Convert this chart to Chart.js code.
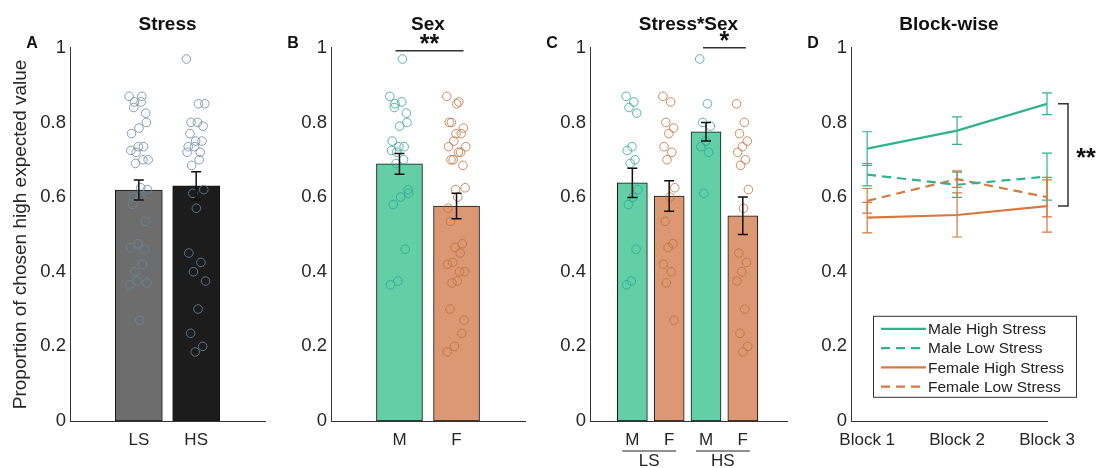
<!DOCTYPE html>
<html>
<head>
<meta charset="utf-8">
<script src="https://cdn.jsdelivr.net/npm/chart.js@4/dist/chart.umd.min.js"></script>
<style>
  html, body { margin: 0; padding: 0; background: #fff; }
  #wrap { position: relative; width: 1103px; height: 468px; overflow: hidden; }
  #wrap canvas { position: absolute; top: 0; }
</style>
</head>
<body>
<div id="wrap">
  <canvas id="cA" width="275" height="468" style="left:0px"></canvas>
  <canvas id="cB" width="265" height="468" style="left:275px"></canvas>
  <canvas id="cC" width="262" height="468" style="left:540px"></canvas>
  <canvas id="cD" width="301" height="468" style="left:802px"></canvas>
</div>
<script>
// Individual participant scores (proportion of high-EV choices) per group
const lsMale   = [0.87, 0.855, 0.84, 0.825, 0.735, 0.725, 0.70, 0.69, 0.62, 0.60, 0.58, 0.46, 0.375, 0.365];
const lsFemale = [0.87, 0.855, 0.80, 0.785, 0.77, 0.735, 0.72, 0.70, 0.625, 0.60, 0.535, 0.475, 0.465, 0.42, 0.40, 0.37, 0.27];
const hsMale   = [0.97, 0.85, 0.80, 0.79, 0.75, 0.735, 0.72, 0.61];
const hsFemale = [0.85, 0.80, 0.77, 0.75, 0.735, 0.72, 0.70, 0.685, 0.62, 0.57, 0.45, 0.425, 0.40, 0.375, 0.30, 0.235, 0.20, 0.185];

// Group means and standard errors
const stressLabels = ['LS', 'HS'];
const stressMeans  = [0.619, 0.630];
const stressSem    = [0.027, 0.038];

const sexLabels = ['M', 'F'];
const sexMeans  = [0.689, 0.576];
const sexSem    = [0.028, 0.034];

const groupLabels = ['M', 'F', 'M', 'F'];
const groupStress = ['LS', 'HS'];
const groupMeans  = [0.638, 0.603, 0.775, 0.550];
const groupSem    = [0.039, 0.041, 0.025, 0.050];

// Block-wise means and standard errors
const blockLabels    = ['Block 1', 'Block 2', 'Block 3'];
const maleHigh       = [0.730, 0.778, 0.850];
const maleHighSem    = [0.045, 0.037, 0.029];
const maleLow        = [0.660, 0.633, 0.655];
const maleLowSem     = [0.030, 0.034, 0.063];
const femaleHigh     = [0.545, 0.552, 0.576];
const femaleHighSem  = [0.041, 0.059, 0.070];
const femaleLow      = [0.590, 0.648, 0.600];
const femaleLowSem   = [0.033, 0.022, 0.053];

const yTicks = [0, 0.2, 0.4, 0.6, 0.8, 1];

// ---------------------------------------------------------------------------
const FONT = 'Arial, "Liberation Sans", Helvetica, sans-serif';
Chart.defaults.font.family = FONT;
Chart.defaults.color = '#262626';
Chart.defaults.animation = false;
Chart.defaults.events = [];
Chart.defaults.plugins.legend.display = false;
Chart.defaults.plugins.tooltip.enabled = false;

const GREY_BAR = '#6d6d6d', BLACK_BAR = '#1c1c1c';
const GREEN_BAR = '#62cfa7', ORANGE_BAR = '#dc9873';
const GREY_DOT = 'rgba(105,135,160,0.8)';
const GREEN_DOT = 'rgba(45,165,150,0.8)';
const ORANGE_DOT = 'rgba(190,112,62,0.8)';
const GREEN_LINE = '#2fb38d', ORANGE_LINE = '#d7783f';
const AXIS = '#333';
const AXIS_H = 47;

// deterministic horizontal spread of the individual dots around a bar
const jitter = i => (((i * 0.6180339887) % 1) - 0.5) * 0.34;
const dots = (vals, pos) => vals.map((v, i) => ({ x: pos + jitter(i), y: v }));

function yAxis(width, title) {
  return {
    type: 'linear', min: 0, max: 1,
    afterBuildTicks: s => { s.ticks = yTicks.map(v => ({ value: v })); },
    afterFit: s => { s.width = width; },
    ticks: { padding: 4, font: { size: 18.5 }, color: '#262626',
             callback: v => String(+(+v).toFixed(1)) },
    grid: { display: false, drawTicks: false },
    border: { color: AXIS, width: 1 },
    title: title ? { display: true, text: title, font: { size: 19 }, color: '#262626',
                     padding: { top: 9, bottom: 0 } } : { display: false }
  };
}

function xAxis(min, max, labels) {
  return {
    type: 'linear', min, max, offset: false, bounds: 'data', grace: 0,
    afterDataLimits: s => { s.min = min; s.max = max; },
    afterBuildTicks: s => { s.ticks = labels.map((_, i) => ({ value: i + 1 })); },
    afterFit: s => { s.height = AXIS_H; },
    ticks: { padding: 9, font: { size: 17 }, color: '#262626', autoSkip: false, maxRotation: 0,
             callback: (v, i) => labels[i] },
    grid: { display: false, drawTicks: false, offset: false },
    border: { color: AXIS, width: 1 }
  };
}

function titleOpts(text) {
  return { display: true, text, fullSize: false, color: '#111',
           font: { size: 19, weight: 'bold' }, padding: { top: 13, bottom: 12 } };
}

function barSet(means, colors, width) {
  return { type: 'bar', order: 2, data: means.map((m, i) => ({ x: i + 1, y: m })),
           backgroundColor: colors, borderColor: '#151515', borderWidth: 1,
           barThickness: width, borderSkipped: false, grouped: false };
}

function dotSet(vals, pos, color) {
  return { type: 'scatter', order: 1, data: dots(vals, pos), pointRadius: 4.3,
           pointBorderWidth: 1, pointBorderColor: color, pointBackgroundColor: 'rgba(0,0,0,0)' };
}

// error bars: items are {x, y, err, color, cap, width}
function errorBars(items) {
  return {
    id: 'errorBars',
    afterDatasetsDraw(chart) {
      const { ctx, scales: { x, y } } = chart;
      ctx.save();
      items.forEach(it => {
        const px = x.getPixelForValue(it.x);
        const top = y.getPixelForValue(it.y + it.err);
        const bot = y.getPixelForValue(it.y - it.err);
        ctx.strokeStyle = it.color;
        ctx.lineWidth = it.width;
        ctx.beginPath();
        ctx.moveTo(px, top); ctx.lineTo(px, bot);
        ctx.moveTo(px - it.cap, top); ctx.lineTo(px + it.cap, top);
        ctx.moveTo(px - it.cap, bot); ctx.lineTo(px + it.cap, bot);
        ctx.stroke();
      });
      ctx.restore();
    }
  };
}

function decorations(fn) {
  return { id: 'decorations', afterDraw(chart) { const ctx = chart.ctx; ctx.save(); fn(chart, ctx); ctx.restore(); } };
}

function panelLetter(ctx, area, letter) {
  ctx.font = 'bold 16px ' + FONT;
  ctx.fillStyle = '#111';
  ctx.textAlign = 'center';
  ctx.textBaseline = 'middle';
  ctx.fillText(letter, area.left - 38, area.top - 4);
}

function sigLine(ctx, x0, x1, y, stars, starY) {
  ctx.strokeStyle = '#333';
  ctx.lineWidth = 1.5;
  ctx.beginPath(); ctx.moveTo(x0, y); ctx.lineTo(x1, y); ctx.stroke();
  ctx.font = 'bold 25px ' + FONT;
  ctx.fillStyle = '#111';
  ctx.textAlign = 'center';
  ctx.textBaseline = 'alphabetic';
  ctx.fillText(stars, (x0 + x1) / 2, starY);
}

const semItems = (means, sems) => means.map((m, i) => ({ x: i + 1, y: m, err: sems[i], color: '#111', cap: 5, width: 1.5 }));

// ---------------- A: Stress ----------------
new Chart(document.getElementById('cA'), {
  type: 'bar',
  data: { datasets: [
    barSet(stressMeans, [GREY_BAR, BLACK_BAR], 47),
    dotSet(lsMale.concat(lsFemale), 1, GREY_DOT),
    dotSet(hsMale.concat(hsFemale), 2, GREY_DOT)
  ] },
  options: {
    responsive: false,
    layout: { padding: { left: 0, right: 10, top: 0, bottom: 0 } },
    scales: { x: xAxis(-0.2, 3.2, stressLabels), y: yAxis(70, 'Proportion of chosen high expected value') },
    plugins: { title: titleOpts('Stress') }
  },
  plugins: [errorBars(semItems(stressMeans, stressSem)),
            decorations((c, ctx) => panelLetter(ctx, c.chartArea, 'A'))]
});

// ---------------- B: Sex ----------------
new Chart(document.getElementById('cB'), {
  type: 'bar',
  data: { datasets: [
    barSet(sexMeans, [GREEN_BAR, ORANGE_BAR], 46),
    dotSet(lsMale.concat(hsMale), 1, GREEN_DOT),
    dotSet(lsFemale.concat(hsFemale), 2, ORANGE_DOT)
  ] },
  options: {
    responsive: false,
    layout: { padding: { left: 0, right: 15, top: 0, bottom: 0 } },
    scales: { x: xAxis(-0.2, 3.2, sexLabels), y: yAxis(56) },
    plugins: { title: titleOpts('Sex') }
  },
  plugins: [errorBars(semItems(sexMeans, sexSem)),
            decorations((c, ctx) => {
              panelLetter(ctx, c.chartArea, 'B');
              const x = c.scales.x, y = c.scales.y;
              sigLine(ctx, x.getPixelForValue(1) - 4, x.getPixelForValue(2) + 7, y.getPixelForValue(0.992), '**', 52);
            })]
});

// ---------------- C: Stress*Sex ----------------
new Chart(document.getElementById('cC'), {
  type: 'bar',
  data: { datasets: [
    barSet(groupMeans, [GREEN_BAR, ORANGE_BAR, GREEN_BAR, ORANGE_BAR], 30),
    dotSet(lsMale, 1, GREEN_DOT),
    dotSet(lsFemale, 2, ORANGE_DOT),
    dotSet(hsMale, 3, GREEN_DOT),
    dotSet(hsFemale, 4, ORANGE_DOT)
  ] },
  options: {
    responsive: false,
    layout: { padding: { left: 0, right: 15, top: 0, bottom: 0 } },
    scales: { x: xAxis(-0.15, 5.2, groupLabels), y: yAxis(50) },
    plugins: { title: titleOpts('Stress*Sex') }
  },
  plugins: [errorBars(semItems(groupMeans, groupSem)),
            decorations((c, ctx) => {
              panelLetter(ctx, c.chartArea, 'C');
              const x = c.scales.x, y = c.scales.y;
              sigLine(ctx, x.getPixelForValue(3) - 3, x.getPixelForValue(4) + 3, y.getPixelForValue(1.0), '*', 49);
              // stress-level grouping under the sex labels
              const lineY = c.chartArea.bottom + 30;
              ctx.strokeStyle = '#222';
              ctx.lineWidth = 1.2;
              ctx.font = '17px ' + FONT;
              ctx.fillStyle = '#262626';
              ctx.textAlign = 'center';
              ctx.textBaseline = 'middle';
              groupStress.forEach((g, k) => {
                const a = x.getPixelForValue(2 * k + 1) - 10;
                const b = x.getPixelForValue(2 * k + 2) + 7;
                ctx.beginPath(); ctx.moveTo(a, lineY); ctx.lineTo(b, lineY); ctx.stroke();
                ctx.fillText(g, (a + b) / 2, lineY + 10);
              });
            })]
});

// ---------------- D: Block-wise ----------------
const blockSeries = [
  { label: 'Male High Stress',   vals: maleHigh,   sem: maleHighSem,   color: GREEN_LINE,  dash: [] },
  { label: 'Male Low Stress',    vals: maleLow,    sem: maleLowSem,    color: GREEN_LINE,  dash: [9, 6] },
  { label: 'Female High Stress', vals: femaleHigh, sem: femaleHighSem, color: ORANGE_LINE, dash: [] },
  { label: 'Female Low Stress',  vals: femaleLow,  sem: femaleLowSem,  color: ORANGE_LINE, dash: [9, 6] }
];

const blockErr = [];
blockSeries.forEach(s => s.vals.forEach((v, i) =>
  blockErr.push({ x: i + 1, y: v, err: s.sem[i], color: s.color, cap: 5, width: 1.2 })));

new Chart(document.getElementById('cD'), {
  type: 'line',
  data: { datasets: blockSeries.map(s => ({
    label: s.label, data: s.vals.map((v, i) => ({ x: i + 1, y: v })),
    borderColor: s.color, borderWidth: 2.2, borderDash: s.dash, pointRadius: 0, fill: false, tension: 0
  })) },
  options: {
    responsive: false,
    layout: { padding: { left: 0, right: 56, top: 0, bottom: 0 } },
    scales: { x: xAxis(0.82, 3, blockLabels), y: yAxis(49) },
    plugins: { title: titleOpts('Block-wise') }
  },
  plugins: [errorBars(blockErr),
            decorations((c, ctx) => {
              const area = c.chartArea, y = c.scales.y;
              panelLetter(ctx, area, 'D');
              // bracket between Male High and Female High Stress at block 3
              const yt = y.getPixelForValue(maleHigh[2]), yb = y.getPixelForValue(femaleHigh[2]);
              const bx = area.right + 21;
              ctx.strokeStyle = '#333';
              ctx.lineWidth = 1.5;
              ctx.beginPath();
              ctx.moveTo(bx - 10, yt); ctx.lineTo(bx, yt); ctx.lineTo(bx, yb); ctx.lineTo(bx - 10, yb);
              ctx.stroke();
              ctx.font = 'bold 25px ' + FONT;
              ctx.fillStyle = '#111';
              ctx.textAlign = 'center';
              ctx.textBaseline = 'alphabetic';
              ctx.fillText('**', area.right + 39, (yt + yb) / 2 + 11);

              // legend
              const lx = area.left + 22, ly = area.top + 268, lw = 203, lh = 81;
              ctx.fillStyle = '#fff';
              ctx.fillRect(lx, ly, lw, lh);
              ctx.strokeStyle = '#333';
              ctx.lineWidth = 1;
              ctx.strokeRect(lx + 0.5, ly + 0.5, lw, lh);
              ctx.font = '15.5px ' + FONT;
              ctx.textAlign = 'left';
              ctx.textBaseline = 'middle';
              c.data.datasets.forEach((ds, k) => {
                const ry = ly + 13 + k * 19.3;
                ctx.strokeStyle = ds.borderColor;
                ctx.lineWidth = 2.2;
                ctx.setLineDash(ds.borderDash || []);
                ctx.beginPath(); ctx.moveTo(lx + 8, ry); ctx.lineTo(lx + 53, ry); ctx.stroke();
                ctx.setLineDash([]);
                ctx.fillStyle = '#222';
                ctx.fillText(ds.label, lx + 55, ry + 1);
              });
            })]
});
</script>
</body>
</html>
